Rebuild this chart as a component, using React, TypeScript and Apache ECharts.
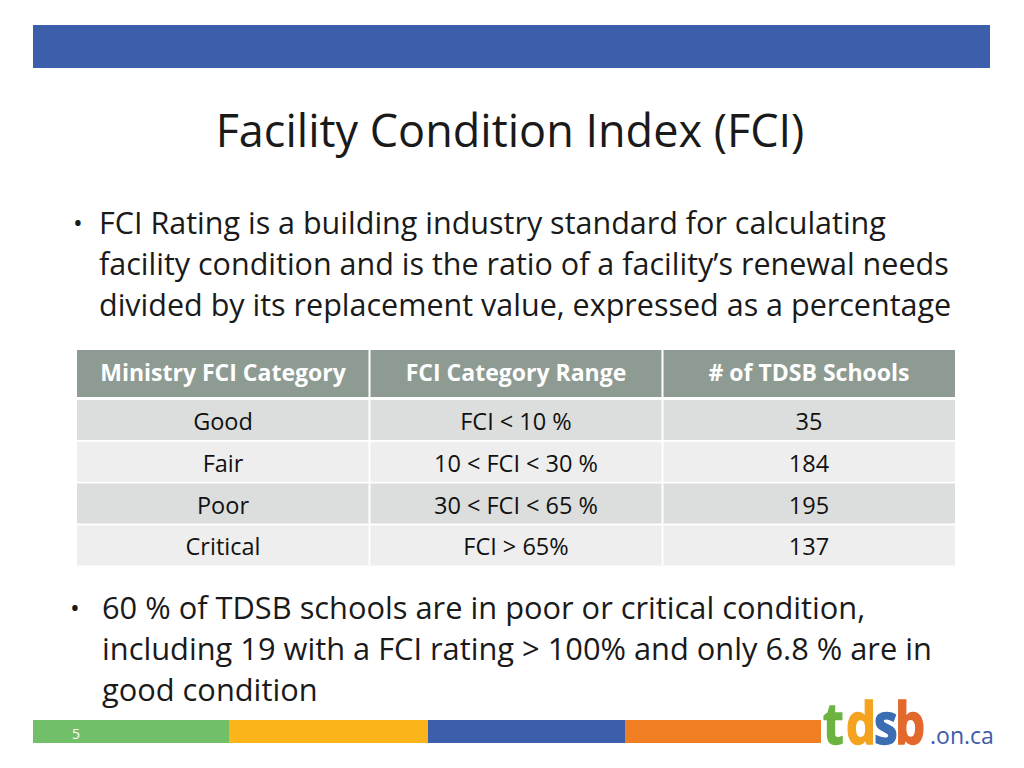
import React, { useEffect, useRef } from "react";
import * as echarts from "echarts";

const titleText = "Facility Condition Index (FCI)";
const bullet1Lines = [
  "FCI Rating is a building industry standard for calculating",
  "facility condition and is the ratio of a facility’s renewal needs",
  "divided by its replacement value, expressed as a percentage",
];
const bullet2Lines = [
  "60 % of TDSB schools are in poor or critical condition,",
  "including 19 with a FCI rating > 100% and only 6.8 % are in",
  "good condition",
];
const tableHeaders = ["Ministry FCI Category", "FCI Category Range", "# of TDSB Schools"];
const categories = ["Good", "Fair", "Poor", "Critical"];
const ranges = ["FCI < 10 %", "10 < FCI < 30 %", "30 < FCI < 65 %", "FCI > 65%"];
const schoolCounts = [35, 184, 195, 137];
const footerColors = ["#72BF69", "#FBB51A", "#3C5FAB", "#F07F23"];
const pageNumber = "5";
const logoLetters = ["t", "d", "s", "b"];
const logoColors = ["#6DB33F", "#F5A31F", "#3B6DB3", "#E2682B"];
const logoSuffix = ".on.ca";

const FONT = "'Open Sans', 'Noto Sans', sans-serif";

function txt(text: string, x: number, y: number, size: number, fill: string, align = "left", weight = "normal") {
  return {
    type: "text",
    silent: true,
    style: {
      text,
      x,
      y,
      font: `${weight} ${size}px ${FONT}`,
      fill,
      align,
      verticalAlign: "middle",
      textAlign: align,
      textVerticalAlign: "middle",
    },
  };
}

export default function App() {
  const ref = useRef<HTMLDivElement>(null);
  useEffect(() => {
    if (!ref.current) return;
    const chart = echarts.init(ref.current, null, { renderer: "svg" });
    const els: any[] = [];
    // top bar
    els.push({ type: "rect", shape: { x: 33, y: 25, width: 957, height: 43 }, style: { fill: "#3C5FAB" } });
    // title
    els.push(txt(titleText, 510, 129, 45, "#1a1a1a", "center"));
    // bullet 1
    els.push(txt("•", 73, 222, 26, "#1a1a1a", "left"));
    bullet1Lines.forEach((l, i) => els.push(txt(l, 99, 222 + i * 41, 30.5, "#1a1a1a")));
    // table
    const colX = [77, 370, 663];
    const colW = [292, 292, 292];
    els.push({ type: "rect", shape: { x: 77, y: 350, width: 878, height: 47 }, style: { fill: "#8E9B93" } });
    tableHeaders.forEach((h, c) => {
      if (c > 0) els.push({ type: "rect", shape: { x: colX[c] - 1.5, y: 350, width: 2, height: 47 }, style: { fill: "#ffffff" } });
      els.push(txt(h, colX[c] + colW[c] / 2, 372, 23, "#ffffff", "center", "bold"));
    });
    const rows = categories.map((cat, i) => [cat, ranges[i], String(schoolCounts[i])]);
    rows.forEach((row, r) => {
      const y = 400 + r * 41.8;
      els.push({ type: "rect", shape: { x: 77, y, width: 878, height: 40 }, style: { fill: r % 2 === 0 ? "#DCDEDD" : "#EDEEED" } });
      row.forEach((cell, c) => {
        if (c > 0) els.push({ type: "rect", shape: { x: colX[c] - 1.5, y, width: 2, height: 40 }, style: { fill: "#ffffff" } });
        els.push(txt(cell, colX[c] + colW[c] / 2, y + 21, 23.5, "#111111", "center"));
      });
    });
    // bullet 2
    els.push(txt("•", 70, 607, 26, "#1a1a1a", "left"));
    bullet2Lines.forEach((l, i) => els.push(txt(l, 102, 607 + i * 41, 30.8, "#1a1a1a")));
    // footer bars
    const fx = [33, 229, 428, 625];
    const fw = [196, 199, 197, 196];
    footerColors.forEach((col, i) => {
      els.push({ type: "rect", shape: { x: fx[i], y: 720, width: fw[i], height: 23 }, style: { fill: col } });
    });
    els.push(txt(pageNumber, 76, 733, 14, "#ffffff", "center"));
    // logo
    const letterX = [823, 846, 874, 895];
    logoLetters.forEach((ch, i) => {
      els.push({
        type: "text",
        silent: true,
        x: letterX[i],
        y: 722,
        scaleX: 0.82,
        style: {
          text: ch,
          x: 0,
          y: 0,
          font: `bold 58px ${FONT}`,
          fill: logoColors[i],
          stroke: logoColors[i],
          lineWidth: 1.5,
          align: "left",
          verticalAlign: "middle",
          textAlign: "left",
          textVerticalAlign: "middle",
        },
      });
    });
    els.push(txt(logoSuffix, 930, 735, 23, "#3F5BA9", "left"));
    chart.setOption({ animation: false, graphic: { elements: els } });
    return () => chart.dispose();
  }, []);
  return (
    <div
      ref={ref}
      style={{ position: "absolute", left: 0, top: 0, width: 1024, height: 768, background: "#ffffff" }}
    />
  );
}
